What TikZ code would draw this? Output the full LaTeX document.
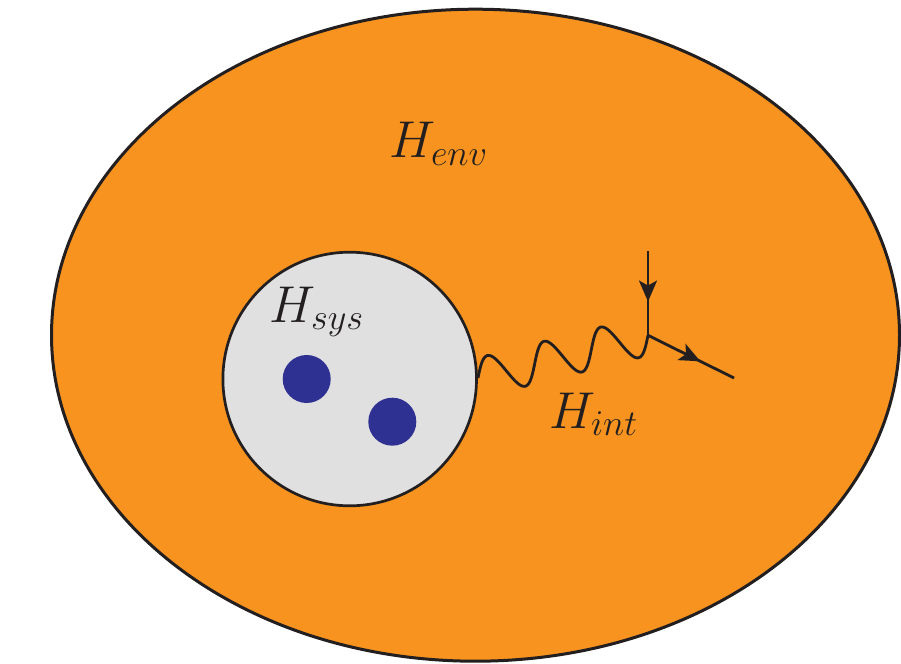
\RequirePackage{fix-cm}
\documentclass[tikz,border=0pt]{standalone}
\usetikzlibrary{arrows.meta,decorations.markings}
\definecolor{envorange}{RGB}{247,147,30}
\definecolor{sysgray}{RGB}{224,224,224}
\definecolor{dotblue}{RGB}{46,49,146}
\definecolor{inkblack}{RGB}{35,31,32}
\begin{document}
\begin{tikzpicture}[x=1bp,y=-1bp,
  hlabel/.style={inner sep=0pt, outer sep=0pt, anchor=base west, text=inkblack,
    font=\fontsize{52}{62}\selectfont},
  midarrow/.style={postaction={decorate}, decoration={markings,
    mark=at position #1 with {\arrow{Stealth[length=21bp,width=18bp,inset=5bp]}}}},
  wire/.style={draw=inkblack, line width=2.8bp},
  dot/.style={circle, fill=dotblue, minimum size=48bp, inner sep=0pt, draw=none},
]
\useasboundingbox (0,0) rectangle (901,664);
\fill[white] (0,0) rectangle (901,664);
% environment
\filldraw[fill=envorange, draw=inkblack, line width=3bp] (475.5,335.2) ellipse [x radius=424, y radius=326];
% system
\filldraw[fill=sysgray, draw=inkblack, line width=2.7bp] (349.7,379) circle [radius=126.8];
\node[dot] (d1) at (306.7,379) {};
\node[dot] (d2) at (392.3,421.7) {};
% coordinates
\coordinate (wstart) at (478,378);
\coordinate (vtx) at (648,335.3);
\coordinate (ptop) at (648,251);
\coordinate (pout) at (734,378);
% interaction wave from (wstart) to (vtx): three sine periods along the axis
\draw[wire, line join=round, shift={(wstart)}, rotate=14.1]
  plot[domain=0:175.3, samples=160, smooth] (\x, {-19.5*sin(6.1609*\x)});
\draw[wire, midarrow=0.6] (ptop) -- (vtx);
\draw[wire, midarrow=0.61] (vtx) -- (pout);
% labels
\node[hlabel] (henv) at (389,158) {$H_{env}$};
\node[hlabel] (hsys) at (269,322) {$H_{sys}$};
\node[hlabel] (hint) at (549,428) {$H_{int}$};
\end{tikzpicture}
\end{document}
